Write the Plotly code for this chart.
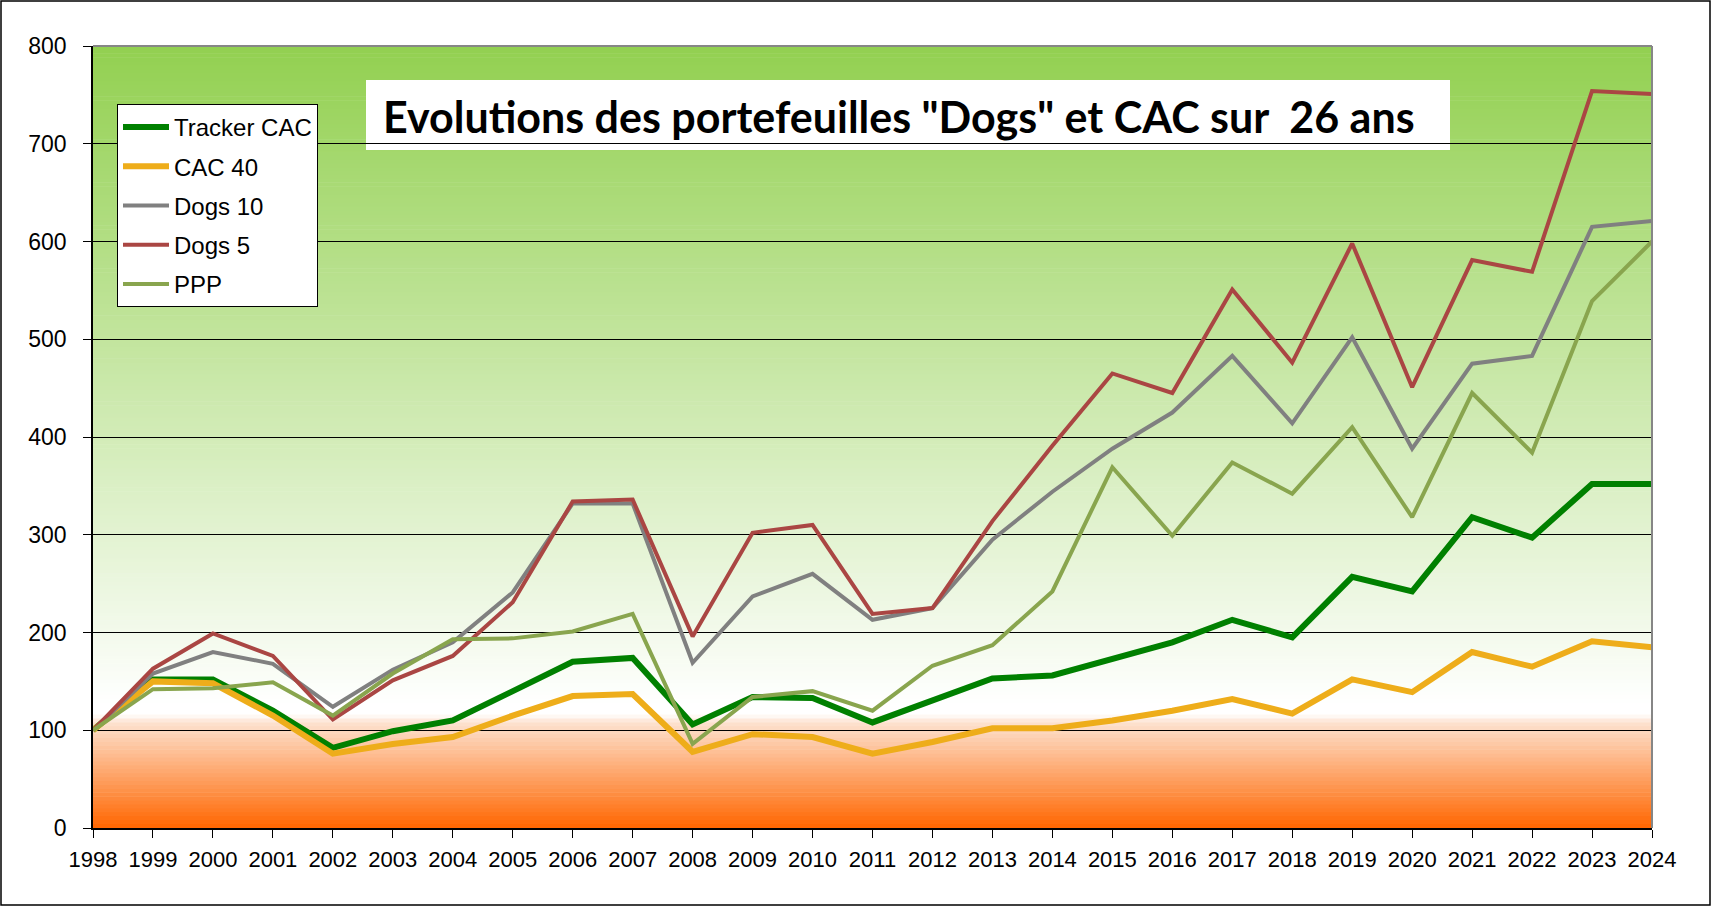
import plotly.graph_objects as go

years = list(range(1998, 2025))

tracker_cac = [100, 152, 152, 120, 82, 99, 110, 140, 170, 174, 106, 134, 133, 108, 130,
               153, 156, 173, 190, 213, 195, 257, 242, 318, 297, 352, 352]
cac40 = [100, 150, 148, 115, 76, 86, 93, 115, 135, 137, 78, 96, 93, 76, 88,
         102, 102, 110, 120, 132, 117, 152, 139, 180, 165, 191, 185]
dogs10 = [100, 158, 180, 168, 124, 162, 190, 241, 332, 332, 169, 237, 260, 213, 225,
          295, 344, 388, 425, 483, 414, 502, 388, 475, 483, 615, 621]
dogs5 = [100, 163, 199, 176, 111, 151, 176, 231, 334, 336, 196, 302, 310, 219, 225,
         314, 391, 465, 445, 551, 476, 598, 451, 581, 569, 754, 751]
ppp = [100, 142, 143, 149, 115, 158, 193, 194, 201, 219, 86, 134, 140, 120, 166,
       187, 242, 369, 299, 374, 342, 410, 318, 445, 384, 539, 600]

series = [
    ("Tracker CAC", tracker_cac, "#008000", 6),
    ("CAC 40", cac40, "#EEAD1A", 6),
    ("Dogs 10", dogs10, "#808080", 4),
    ("Dogs 5", dogs5, "#AA4643", 4),
    ("PPP", ppp, "#89A54E", 4),
]

title_text = 'Evolutions des portefeuilles "Dogs" et CAC sur  26 ans'

W, H = 1712, 907
ML, MR, MT, MB = 93, 60, 46, 79
PW, PH = W - ML - MR, H - MT - MB

fig = go.Figure()
for i, (name, vals, col, w) in enumerate(series):
    fig.add_trace(go.Scatter(x=years, y=vals, name=name, mode="lines",
                             line=dict(color=col, width=w), legendgroup=f"g{i}"))

def lerp(a, b, t):
    return tuple(a[k] + (b[k] - a[k]) * t for k in range(3))

stops = [(0, (255, 102, 0)), (108, (253, 226, 208)), (116, (255, 255, 255)),
         (125, (255, 255, 255)), (800, (146, 208, 80))]

def color_at(v):
    for (v0, c0), (v1, c1) in zip(stops[:-1], stops[1:]):
        if v0 <= v <= v1:
            t = (v - v0) / (v1 - v0) if v1 > v0 else 0
            c = lerp(c0, c1, t)
            return "rgb(%d,%d,%d)" % tuple(round(x) for x in c)
    return "rgb(146,208,80)"

shapes = []
step = 4
v = 0
while v < 800:
    shapes.append(dict(type="rect", xref="paper", yref="y", x0=0, x1=1, y0=v, y1=v + step + 0.6,
                       fillcolor=color_at(v + step / 2), line=dict(width=0), layer="below"))
    v += step

def px_to_paper_x(px):
    return (px - ML) / PW

def px_to_paper_y(py):
    return 1 - (py - MT) / PH

shapes.append(dict(type="line", xref="paper", yref="paper", x0=0, x1=1, y0=1, y1=1,
                   line=dict(color="#868686", width=2), layer="above"))
shapes.append(dict(type="line", xref="paper", yref="paper", x0=1, x1=1, y0=0, y1=1,
                   line=dict(color="#868686", width=2), layer="above"))
shapes.append(dict(type="rect", xref="paper", yref="paper",
                   x0=px_to_paper_x(366), x1=px_to_paper_x(1450),
                   y0=px_to_paper_y(150), y1=px_to_paper_y(80),
                   fillcolor="white", line=dict(width=0), layer="between"))
shapes.append(dict(type="rect", xref="paper", yref="paper",
                   x0=px_to_paper_x(1), x1=px_to_paper_x(W - 2),
                   y0=px_to_paper_y(H - 2), y1=px_to_paper_y(1),
                   line=dict(color="black", width=1.5), layer="above"))

fig.update_layout(
    width=W, height=H,
    margin=dict(l=ML, r=MR, t=MT, b=MB, pad=0),
    paper_bgcolor="white", plot_bgcolor="white",
    shapes=shapes,
    font=dict(family="Liberation Sans, Arial, sans-serif", size=23, color="black"),
    xaxis=dict(range=[1998, 2024], tickmode="linear", tick0=1998, dtick=1,
               showgrid=False, zeroline=False, showline=True, linecolor="black", linewidth=1.5,
               ticks="outside", ticklen=8, tickcolor="black", tickwidth=1,
               ticklabelstandoff=3, tickfont=dict(size=22)),
    yaxis=dict(range=[0, 800], tickmode="linear", tick0=0, dtick=100,
               showgrid=True, gridcolor="black", gridwidth=1, zeroline=False,
               showline=True, linecolor="black", linewidth=1.5,
               ticks="outside", ticklen=8, tickcolor="black", tickwidth=1,
               ticklabelstandoff=12, tickfont=dict(size=23)),
    legend=dict(x=px_to_paper_x(117), y=px_to_paper_y(104), xanchor="left", yanchor="top",
                bgcolor="white", bordercolor="black", borderwidth=1,
                font=dict(size=24, color="black"), tracegroupgap=5,
                traceorder="grouped", itemwidth=46),
    annotations=[dict(text="<b>" + title_text + "</b>", xref="paper", yref="paper",
                      x=px_to_paper_x(381), y=px_to_paper_y(117), xanchor="left", yanchor="middle",
                      showarrow=False, font=dict(family="Lato, sans-serif", size=43, color="black"))],
)

fig.write_html("out.html", config={"displayModeBar": False},
               post_script="document.body.style.margin='0px';document.body.style.overflow='hidden';")
